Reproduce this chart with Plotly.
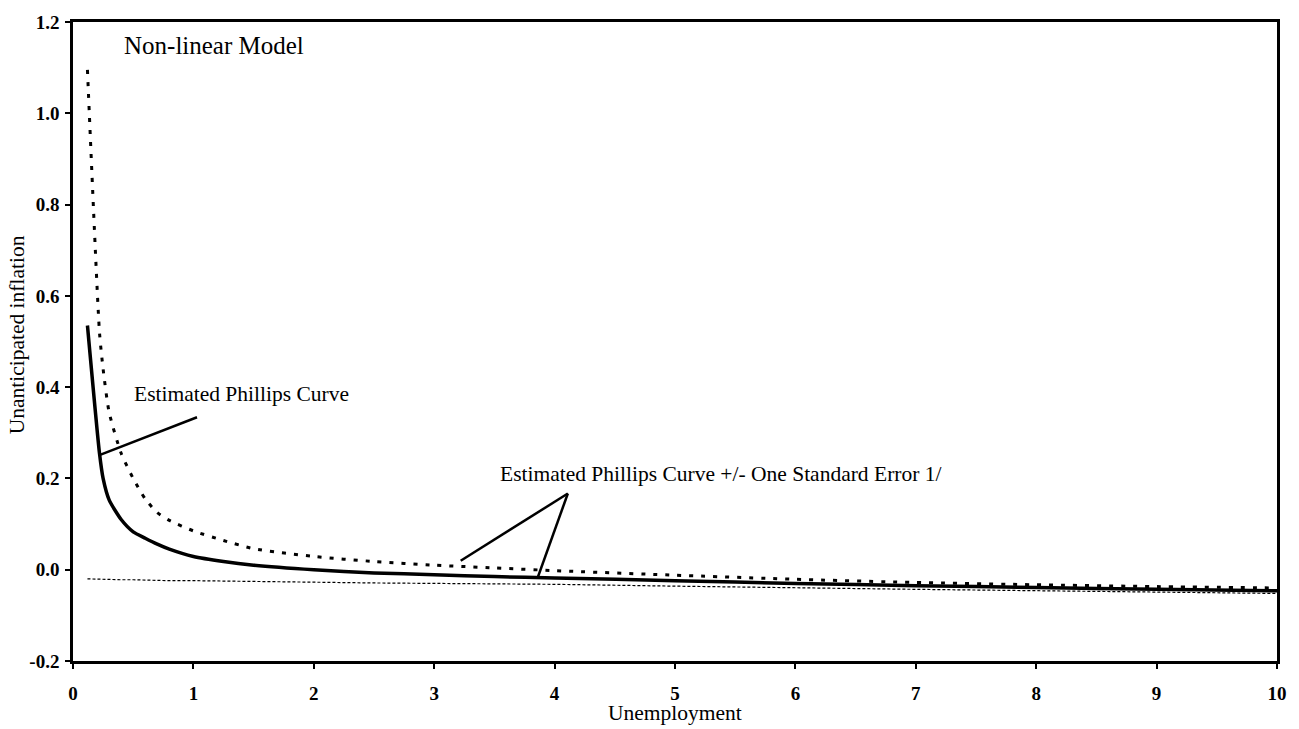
import plotly.graph_objects as go

# Unemployment grid and the three curves of the non-linear Phillips curve model
unemployment = [0.12, 0.22, 0.25, 0.3, 0.4, 0.5, 0.6, 0.7, 0.8, 1.0, 1.25, 1.5,
                2.0, 2.5, 3.0, 3.5, 4.0, 5.0, 6.0, 7.0, 8.0, 9.0, 10.0]

estimate = [0.535, 0.255, 0.200, 0.153, 0.110, 0.083, 0.069, 0.056, 0.045, 0.029,
            0.018, 0.010, 0.000, -0.007, -0.011, -0.015, -0.018, -0.024, -0.030,
            -0.035, -0.039, -0.043, -0.046]

upper_band = [1.095, 0.520, 0.440, 0.345, 0.255, 0.200, 0.155, 0.125, 0.108, 0.085,
              0.064, 0.046, 0.029, 0.018, 0.010, 0.004, -0.002, -0.012, -0.021,
              -0.028, -0.033, -0.037, -0.040]

lower_band = [-0.020, -0.021, -0.021, -0.021, -0.022, -0.022, -0.023, -0.023, -0.024,
              -0.024, -0.025, -0.026, -0.027, -0.029, -0.030, -0.031, -0.032, -0.036,
              -0.040, -0.043, -0.046, -0.049, -0.052]

x_ticks = [0, 1, 2, 3, 4, 5, 6, 7, 8, 9, 10]
y_ticks = [-0.2, 0.0, 0.2, 0.4, 0.6, 0.8, 1.0, 1.2]

SERIF = "Liberation Serif, Times New Roman, serif"

fig = go.Figure()

fig.add_trace(go.Scatter(
    x=unemployment, y=lower_band, mode="lines",
    line=dict(color="black", width=1.2, dash="3px,2px"),
    name="Lower band", showlegend=False, hoverinfo="skip",
))
fig.add_trace(go.Scatter(
    x=unemployment, y=upper_band, mode="lines",
    line=dict(color="black", width=3, dash="4px,8px", shape="spline", smoothing=0.6),
    name="Upper band", showlegend=False, hoverinfo="skip",
))
fig.add_trace(go.Scatter(
    x=unemployment, y=estimate, mode="lines",
    line=dict(color="black", width=3.5, shape="spline", smoothing=0.6),
    name="Estimated Phillips Curve", showlegend=False,
))

# Callout pointers (data coordinates)
callouts = [
    ((0.23, 0.252), (1.03, 0.334)),
    ((3.22, 0.0195), (4.11, 0.167)),
    ((4.11, 0.167), (3.86, -0.017)),
]
for (x0, y0), (x1, y1) in callouts:
    fig.add_shape(type="line", x0=x0, y0=y0, x1=x1, y1=y1, xref="x", yref="y",
                  line=dict(color="black", width=2.5))

text_font = dict(family=SERIF, size=21.5, color="black")
fig.add_annotation(x=0.41, y=1.148, xref="x", yref="y", text="Non-linear Model",
                   showarrow=False, xanchor="left", yanchor="middle",
                   font=dict(family=SERIF, size=25, color="black"))
fig.add_annotation(x=0.49, y=0.384, xref="x", yref="y", text="Estimated Phillips Curve",
                   showarrow=False, xanchor="left", yanchor="middle", font=text_font)
fig.add_annotation(x=3.53, y=0.2105, xref="x", yref="y",
                   text="Estimated Phillips Curve +/- One Standard Error 1/",
                   showarrow=False, xanchor="left", yanchor="middle", font=text_font)

# Axis titles
fig.add_annotation(x=-0.0463, y=0.51, xref="paper", yref="paper",
                   text="Unanticipated inflation", textangle=-90, showarrow=False,
                   xanchor="center", yanchor="middle", font=text_font)
fig.add_annotation(x=0.5, y=-0.0806, xref="paper", yref="paper",
                   text="Unemployment", showarrow=False,
                   xanchor="center", yanchor="middle", font=text_font)

tick_font = dict(family=SERIF, size=19, color="black", weight="bold")

fig.update_xaxes(
    range=[0, 10], tickvals=x_ticks, ticktext=[str(v) for v in x_ticks],
    showline=True, linecolor="black", linewidth=2.5, mirror=True,
    ticks="outside", ticklen=5, tickwidth=1.5, tickcolor="black",
    showgrid=False, zeroline=False, tickfont=tick_font, ticklabelstandoff=8,
)
fig.update_yaxes(
    range=[-0.2, 1.2], tickvals=y_ticks, ticktext=[f"{v:.1f}" for v in y_ticks],
    showline=True, linecolor="black", linewidth=2.5, mirror=True,
    ticks="outside", ticklen=5, tickwidth=1.5, tickcolor="black",
    showgrid=False, zeroline=False, tickfont=tick_font, ticklabelstandoff=2,
)

fig.update_layout(
    width=1299, height=729,
    margin=dict(l=73, r=16, t=16, b=68),
    paper_bgcolor="white", plot_bgcolor="white",
    showlegend=False,
)

fig.write_html("out.html")
